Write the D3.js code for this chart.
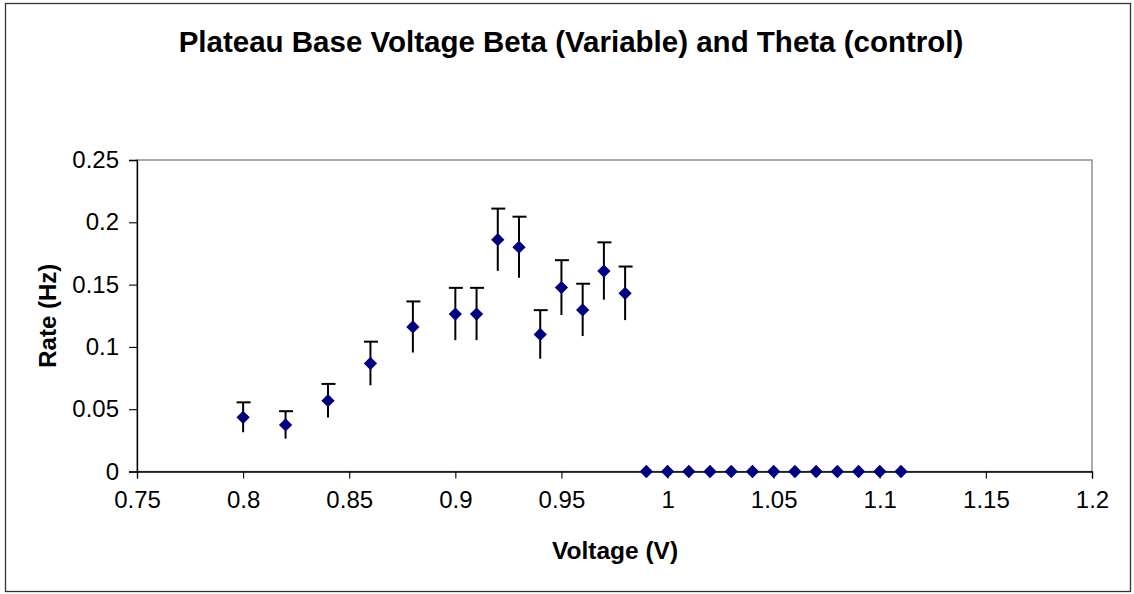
<!DOCTYPE html>
<html>
<head>
<meta charset="utf-8">
<script src="https://cdn.jsdelivr.net/npm/d3@7/dist/d3.min.js"></script>
<style>
  html, body { margin: 0; padding: 0; background: #fff; }
  svg { display: block; font-family: "Liberation Sans", Arial, sans-serif; }
</style>
</head>
<body>
<svg id="chart" width="1134" height="594"></svg>
<script>
// ---- data ----
const voltage = [0.80, 0.82, 0.84, 0.86, 0.88, 0.90, 0.91, 0.92, 0.93, 0.94, 0.95, 0.96, 0.97, 0.98,
                 0.99, 1.00, 1.01, 1.02, 1.03, 1.04, 1.05, 1.06, 1.07, 1.08, 1.09, 1.10, 1.11];
const rate = [0.0435, 0.0374, 0.0568, 0.0867, 0.116, 0.1264, 0.1264, 0.186, 0.180, 0.110, 0.1476, 0.1297, 0.1609, 0.143,
              0, 0, 0, 0, 0, 0, 0, 0, 0, 0, 0, 0, 0];
const rateErr = [0.012, 0.011, 0.0135, 0.0175, 0.0205, 0.021, 0.021, 0.025, 0.0245, 0.0195, 0.022, 0.021, 0.023, 0.0215,
                 0, 0, 0, 0, 0, 0, 0, 0, 0, 0, 0, 0, 0];
const xTicks = [0.75, 0.8, 0.85, 0.9, 0.95, 1, 1.05, 1.1, 1.15, 1.2];
const yTicks = [0, 0.05, 0.1, 0.15, 0.2, 0.25];
const titleText = "Plateau Base Voltage Beta (Variable) and Theta (control)";
const xTitle = "Voltage (V)";
const yTitle = "Rate (Hz)";

// ---- layout ----
const svg = d3.select("#chart");
const plot = { left: 137, right: 1092, top: 160, bottom: 471.5 };

// outer border
svg.append("rect")
  .attr("x", 5.5).attr("y", 3.5).attr("width", 1125).attr("height", 588)
  .attr("fill", "#fff").attr("stroke", "#333").attr("stroke-width", 1.3);

const x = d3.scaleLinear().domain([0.75, 1.2]).range([plot.left, plot.right]);
const y = d3.scaleLinear().domain([0, 0.25]).range([plot.bottom, plot.top]);

// plot area border (top/right gray)
svg.append("rect")
  .attr("x", plot.left).attr("y", plot.top)
  .attr("width", plot.right - plot.left).attr("height", plot.bottom - plot.top)
  .attr("fill", "none").attr("stroke", "#808080").attr("stroke-width", 1.3);

// axes
const fmt = d => String(+d.toFixed(2));
const xAxis = svg.append("g")
  .attr("transform", `translate(0,${plot.bottom})`)
  .call(d3.axisBottom(x).tickValues(xTicks).tickFormat(fmt).tickSizeOuter(0).tickSize(7).tickPadding(12));
const yAxis = svg.append("g")
  .attr("transform", `translate(${plot.left},0)`)
  .call(d3.axisLeft(y).tickValues(yTicks).tickFormat(fmt).tickSizeOuter(0).tickSize(8).tickPadding(10));

[xAxis, yAxis].forEach(g => {
  g.select(".domain").attr("stroke", "#000").attr("stroke-width", 1.3);
  g.selectAll(".tick line").attr("stroke", "#000").attr("stroke-width", 1.1);
  g.selectAll(".tick text")
    .attr("font-family", "'Liberation Sans', Arial, sans-serif")
    .attr("font-size", 24).attr("fill", "#000");
});

// data
const data = voltage.map((v, i) => ({ v, r: rate[i], e: rateErr[i] }));

// error bars (plus & minus, cap only on top)
const eb = svg.append("g").attr("stroke", "#000").attr("stroke-width", 2);
data.filter(d => d.e > 0).forEach(d => {
  eb.append("line")
    .attr("x1", x(d.v)).attr("x2", x(d.v))
    .attr("y1", y(d.r - d.e)).attr("y2", y(d.r + d.e));
  eb.append("line")
    .attr("x1", x(d.v) - 6.5).attr("x2", x(d.v) + 7.5)
    .attr("y1", y(d.r + d.e)).attr("y2", y(d.r + d.e));
});

// diamonds
const diamond = d3.symbol().type(d3.symbolDiamond2).size(112);
svg.append("g").selectAll("path").data(data).join("path")
  .attr("d", diamond)
  .attr("transform", d => `translate(${x(d.v)},${y(d.r)})`)
  .attr("fill", "#000080");

// titles
svg.append("text")
  .attr("x", 571).attr("y", 52)
  .attr("text-anchor", "middle")
  .attr("font-size", 29.5).attr("font-weight", "bold").attr("fill", "#000")
  .text(titleText);

svg.append("text")
  .attr("x", 615).attr("y", 559)
  .attr("text-anchor", "middle")
  .attr("font-size", 24.5).attr("font-weight", "bold").attr("fill", "#000")
  .text(xTitle);

svg.append("text")
  .attr("transform", `translate(56,${(plot.top + plot.bottom) / 2}) rotate(-90)`)
  .attr("text-anchor", "middle")
  .attr("font-size", 24).attr("font-weight", "bold").attr("fill", "#000")
  .text(yTitle);
</script>
</body>
</html>
